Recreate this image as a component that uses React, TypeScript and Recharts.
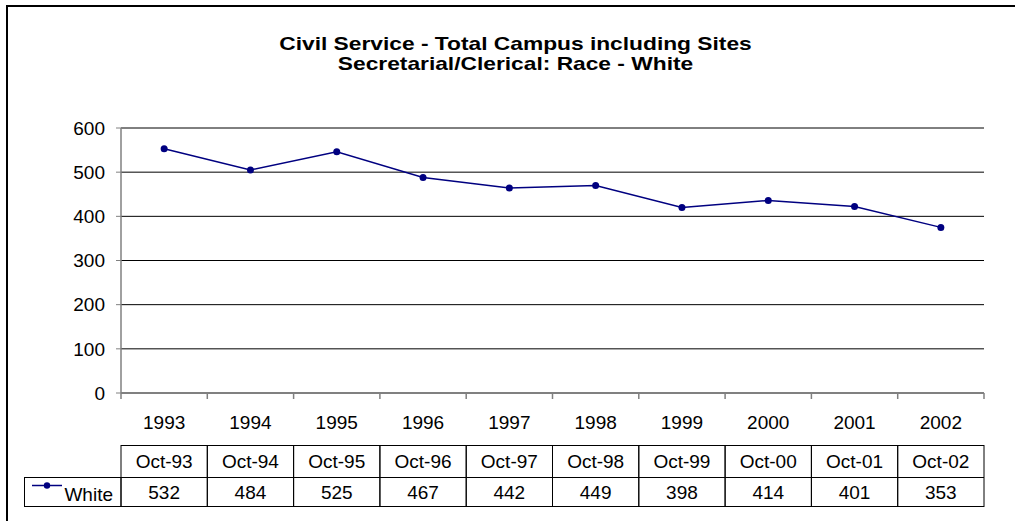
import React from 'react';
import { LineChart, Line, XAxis, YAxis, CartesianGrid } from 'recharts';

const titleLines = ['Civil Service - Total Campus including Sites', 'Secretarial/Clerical: Race - White'];
const seriesName = 'White';
const years = ['1993', '1994', '1995', '1996', '1997', '1998', '1999', '2000', '2001', '2002'];
const months = ['Oct-93', 'Oct-94', 'Oct-95', 'Oct-96', 'Oct-97', 'Oct-98', 'Oct-99', 'Oct-00', 'Oct-01', 'Oct-02'];
// values printed in the data table
const tableValues = [532, 484, 525, 467, 442, 449, 398, 414, 401, 353];
// where the points actually sit on the plot
const plottedValues = [553, 505, 546, 488, 464, 470, 420, 436, 422, 375];
const yTicks = [0, 100, 200, 300, 400, 500, 600];

const data = years.map((year, i) => ({ year, value: plottedValues[i] }));

const W = 1015;
const H = 521;
const margin = { top: 128, right: 31, bottom: 0, left: 61 };
const yAxisW = 60;
const xAxisH = 128;
const band = (W - margin.left - yAxisW - margin.right) / years.length;
const font = '"Liberation Sans", Arial, sans-serif';
const navy = '#000080';

function TableTick(props: any) {
  const { x, y, payload } = props;
  const i = payload.index;
  const l = x - band / 2;
  const r = x + band / 2;
  const txt = { fontFamily: font, fontSize: 19, fill: '#000', textAnchor: 'middle' as const };
  return (
    <g>
      <line x1={l} y1={y} x2={l} y2={y + 6} stroke="#808080" strokeWidth={1.5} />
      {i === years.length - 1 && <line x1={r} y1={y} x2={r} y2={y + 6} stroke="#808080" strokeWidth={1.5} />}
      <text x={x} y={y + 36} {...txt}>{years[i]}</text>
      <rect x={l} y={y + 52.5} width={band} height={61} fill="none" stroke="#000" />
      <line x1={l} y1={y + 84.5} x2={r} y2={y + 84.5} stroke="#000" />
      <text x={x} y={y + 75} {...txt}>{months[i]}</text>
      <text x={x} y={y + 106} {...txt}>{tableValues[i]}</text>
      {i === 0 && (
        <g>
          <rect x={24.5} y={y + 84.5} width={l - 24.5} height={29} fill="none" stroke="#000" />
          <line x1={32} y1={y + 92.5} x2={62} y2={y + 92.5} stroke={navy} strokeWidth={1.5} />
          <circle cx={47} cy={y + 92.5} r={3.2} fill={navy} />
          <text x={113} y={y + 108} fontFamily={font} fontSize={19} fill="#000" textAnchor="end">{seriesName}</text>
        </g>
      )}
    </g>
  );
}

export default function App() {
  return (
    <div style={{ position: 'absolute', left: 0, top: 0, width: W, height: H, overflow: 'hidden', background: '#fff', fontFamily: font }}>
      <div style={{ position: 'absolute', left: 6, top: 5, width: 1100, height: 700, border: '2px solid #000' }} />
      <div style={{ position: 'absolute', left: 8, top: 34, width: W, textAlign: 'center', fontSize: 18.5, fontWeight: 'bold', lineHeight: '19.5px', color: '#000', transform: 'scaleX(1.23)', transformOrigin: '507.5px 0' }}>
        {titleLines.map((t) => <div key={t}>{t}</div>)}
      </div>
      <div style={{ position: 'absolute', left: 0, top: 0 }}>
        <LineChart width={W} height={H} data={data} margin={margin}>
          <CartesianGrid vertical={false} stroke="#000" strokeDasharray="" />
          <XAxis
            dataKey="year"
            height={xAxisH}
            interval={0}
            padding={{ left: band / 2, right: band / 2 }}
            tickLine={false}
            tickSize={0}
            tickMargin={0}
            axisLine={{ stroke: '#808080', strokeWidth: 1.5 }}
            tick={<TableTick />}
          />
          <YAxis
            width={yAxisW}
            domain={[0, 600]}
            ticks={yTicks}
            interval={0}
            tickSize={5}
            tickMargin={11}
            axisLine={{ stroke: '#808080', strokeWidth: 1.5 }}
            tickLine={{ stroke: '#808080' }}
            tick={{ fill: '#000', fontSize: 19, fontFamily: font }}
          />
          <Line
            dataKey="value"
            type="linear"
            stroke={navy}
            strokeWidth={1.5}
            dot={{ r: 3.5, fill: navy, stroke: navy, strokeWidth: 0 }}
            activeDot={false}
            isAnimationActive={false}
          />
        </LineChart>
      </div>
    </div>
  );
}
